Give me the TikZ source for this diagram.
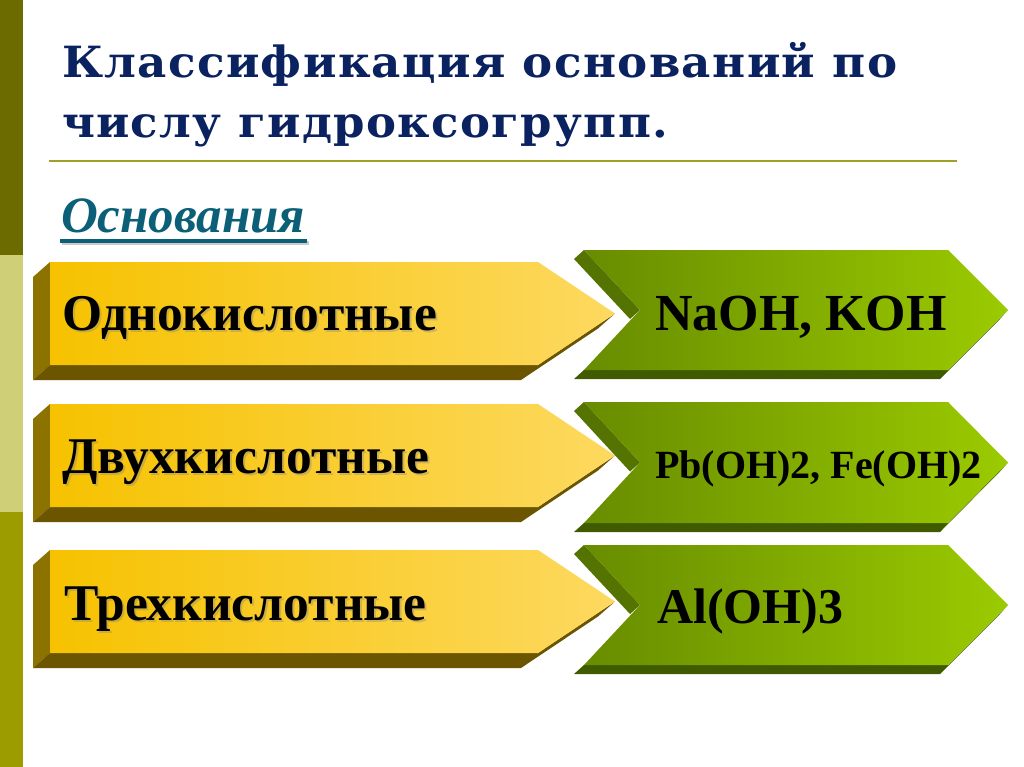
\documentclass[tikz,border=0pt]{standalone}
\usepackage{fontspec}
\usepackage{graphicx}
\setmainfont{Liberation Serif}
\newfontfamily\titlefont[LetterSpace=3]{DejaVu Serif}
\definecolor{bardark}{HTML}{6B6B00}
\definecolor{barlight}{HTML}{CFCF78}
\definecolor{barolive}{HTML}{9C9C00}
\definecolor{navy}{HTML}{0B2260}
\definecolor{teal}{HTML}{0B6078}
\definecolor{rulecol}{HTML}{A0A028}
\definecolor{ygold}{HTML}{F6C200}
\definecolor{ylight}{HTML}{FDD960}
\definecolor{yleft}{HTML}{8C7300}
\definecolor{ybottom}{HTML}{6B5500}
\definecolor{gleft}{HTML}{688C00}
\definecolor{gright}{HTML}{9BCB00}
\definecolor{gside}{HTML}{557300}
\definecolor{gbottom}{HTML}{405A00}
\newcommand\yellowshape[2]{%
  \pgfmathsetmacro\ymid{(#1+#2)/2}%
  \fill[yleft] (50,#1) -- (33,{#1+15}) -- (33,{#2+15}) -- (50,#2) -- cycle;
  \fill[ybottom] (50,#2) -- (538,#2) -- (615,\ymid) -- (598,{\ymid+15}) -- (521,{#2+15}) -- (33,{#2+15}) -- cycle;
  \shade[left color=ygold,right color=ylight] (50,#1) -- (538,#1) -- (615,\ymid) -- (538,#2) -- (50,#2) -- cycle;
}
\newcommand\greenshape[2]{%
  \pgfmathsetmacro\gmid{(#1+#2)/2}%
  \fill[gside] (584,#1) -- (640,\gmid) -- (630,{\gmid+9}) -- (574,{#1+9}) -- cycle;
  \fill[gbottom] (584,#2) -- (948,#2) -- (1008,\gmid) -- (1000,{\gmid+9}) -- (940,{#2+9}) -- (574,{#2+9}) -- cycle;
  \shade[left color=gleft,right color=gright] (584,#1) -- (948,#1) -- (1008,\gmid) -- (948,#2) -- (584,#2) -- (640,\gmid) -- cycle;
}
\tikzset{
  txt/.style={anchor=base west,inner sep=0pt,outer sep=0pt},
  shadowtxt/.style={txt,text=black!50,opacity=0.35},
  titletxt/.style={txt,text=navy,font=\titlefont\bfseries\fontsize{43}{43}\selectfont},
  headfont/.style={font=\bfseries\itshape\fontsize{51}{51}\selectfont},
  ytxt/.style={font=\bfseries\fontsize{51.5}{51.5}\selectfont},
  gbig/.style={font=\bfseries\fontsize{52}{52}\selectfont},
  gsmall/.style={font=\bfseries\fontsize{40}{40}\selectfont},
  g3font/.style={font=\bfseries\fontsize{50}{50}\selectfont},
}
\begin{document}
\begin{tikzpicture}[x=1pt,y=-1pt]
\useasboundingbox (0,0) rectangle (1024,767);
\fill[white] (0,0) rectangle (1024,767);
% left bar
\fill[bardark] (0,0) rectangle (23,255);
\fill[barlight] (0,255) rectangle (23,512);
\fill[barolive] (0,512) rectangle (23,767);
% title
\node[titletxt] (t1) at (62,78) {\resizebox{835pt}{\height}{Классификация оснований по}};
\node[titletxt] (t2) at (62,138) {\resizebox{606pt}{\height}{числу гидроксогрупп.}};
\draw[rulecol,line width=2pt] (49,161) -- (957,161);
% heading
\node[txt,headfont,text=teal] (h) at (61,233) {Основания};
\draw[black!40,opacity=0.5,line width=3.5pt] (62,243) -- (309,243);
\draw[teal,line width=3.5pt] (60,241) -- (307,241);
% arrows
\yellowshape{262}{365}
\yellowshape{404}{507}
\yellowshape{550}{653}
\greenshape{250}{370}
\greenshape{402}{523}
\greenshape{545}{665}
% yellow texts
\node[shadowtxt,ytxt] (y1s) at (64,332) {Однокислотные};
\node[txt,ytxt] (y1) at (62,330) {Однокислотные};
\node[shadowtxt,ytxt] (y2s) at (64,475) {Двухкислотные};
\node[txt,ytxt] (y2) at (62,473) {Двухкислотные};
\node[shadowtxt,ytxt] (y3s) at (66,622) {Трехкислотные};
\node[txt,ytxt] (y3) at (64,620) {Трехкислотные};
% green texts
\node[txt,gbig] (g1) at (655,330) {NaOH, KOH};
\node[txt,gsmall] (g2) at (655,478) {Pb(OH)2, Fe(OH)2};
\node[txt,g3font] (g3) at (657,623) {Al(OH)3};
\end{tikzpicture}
\end{document}
